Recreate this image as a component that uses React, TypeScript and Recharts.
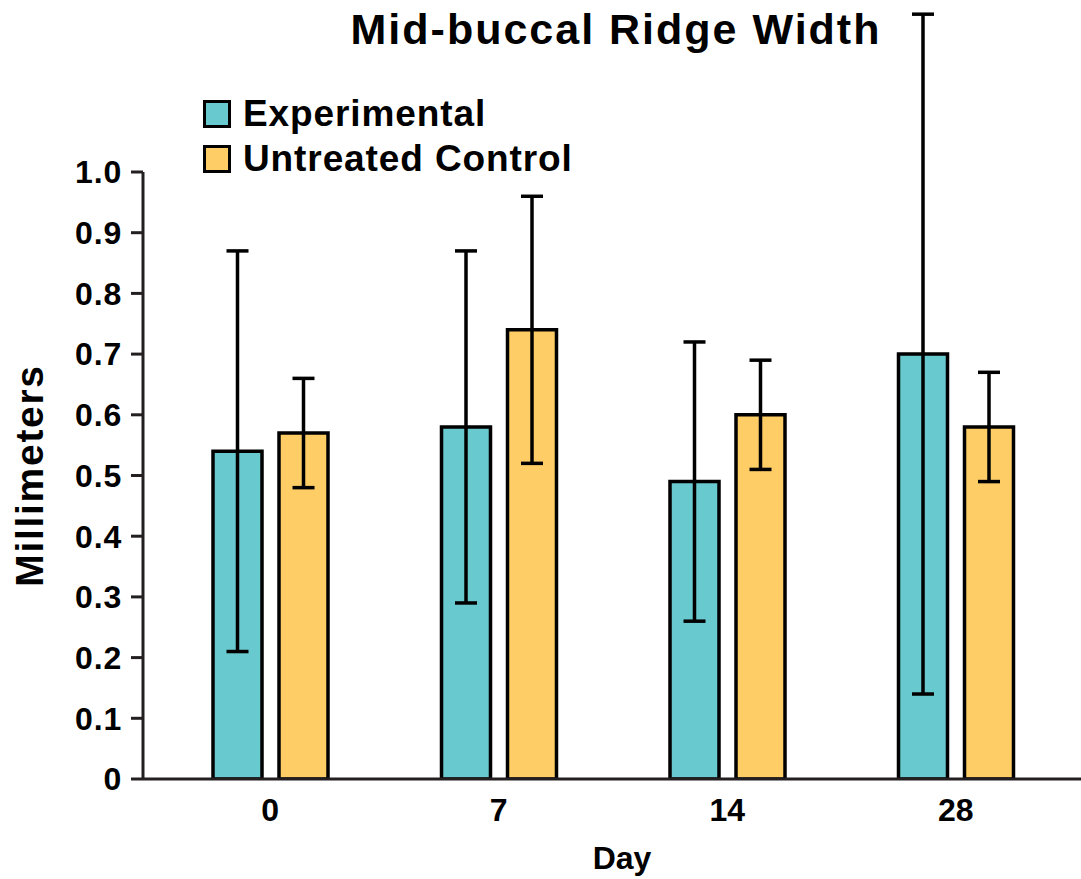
import { BarChart, Bar, XAxis, YAxis, ErrorBar, Legend } from "recharts";

const days = ["0", "7", "14", "28"];
const experimental = [0.54, 0.58, 0.49, 0.7];
const experimentalErr = [0.33, 0.29, 0.23, 0.56];
const control = [0.57, 0.74, 0.6, 0.58];
const controlErr = [0.09, 0.22, 0.09, 0.09];
const yTicks = [0, 0.1, 0.2, 0.3, 0.4, 0.5, 0.6, 0.7, 0.8, 0.9, 1.0];

const TEAL = "#68C9CE";
const GOLD = "#FECD66";
const AXIS = "#231F20";
const FONT = "'Liberation Sans', Arial, sans-serif";

const data = days.map((d, i) => ({
  day: d,
  exp: experimental[i],
  expErr: experimentalErr[i],
  ctrl: control[i],
  ctrlErr: controlErr[i],
}));

const legendItems = [
  { name: "Experimental", color: TEAL },
  { name: "Untreated Control", color: GOLD },
];

function LegendBox() {
  return (
    <div style={{ fontFamily: FONT, fontWeight: 700, fontSize: 37, color: "#000", lineHeight: "45px" }}>
      {legendItems.map(it => (
        <div key={it.name} style={{ display: "flex", alignItems: "center" }}>
          <span style={{ width: 22, height: 22, background: it.color, border: "3.5px solid #000", marginRight: 12, display: "inline-block" }} />
          <span style={{ letterSpacing: 0.9 }}>{it.name}</span>
        </div>
      ))}
    </div>
  );
}

export default function App() {
  return (
    <div style={{ position: "absolute", left: 0, top: 0, width: 1081, height: 879, background: "#fff" }}>
      <div style={{ position: "absolute", left: 0, width: 1232, top: 5, textAlign: "center", fontFamily: FONT, fontWeight: 700, fontSize: 43, letterSpacing: 2, color: "#000" }}>
        Mid-buccal Ridge Width
      </div>
      <BarChart width={1081} height={879} data={data} margin={{ top: 172, right: 0, bottom: 0, left: 0 }}
        barSize={49} barGap={17}>
        <XAxis dataKey="day" height={100} tickLine={false} tickSize={10} tickMargin={9}
          axisLine={{ stroke: AXIS, strokeWidth: 3 }} padding={{ left: 13, right: 11 }}
          tick={{ fill: "#000", fontSize: 32, fontWeight: 700, fontFamily: FONT }}
          label={{ value: "Day", position: "insideBottom", offset: 10, dx: 10, fill: "#000", fontSize: 32, fontWeight: 700, fontFamily: FONT }} />
        <YAxis width={143} domain={[0, 1]} allowDataOverflow ticks={yTicks} interval={0}
          tickFormatter={v => (v === 0 ? "0" : v.toFixed(1))}
          tickSize={12} tickMargin={9}
          axisLine={{ stroke: AXIS, strokeWidth: 3 }} tickLine={{ stroke: AXIS, strokeWidth: 3 }}
          tick={{ fill: "#000", fontSize: 32, fontWeight: 700, fontFamily: FONT, letterSpacing: 0.8 }}
          label={{ value: "Millimeters", angle: -90, position: "insideLeft", offset: 29, fill: "#000", fontSize: 39, fontWeight: 700, fontFamily: FONT, letterSpacing: 1.7, style: { textAnchor: "middle" } }} />
        <Legend layout="vertical" align="center" verticalAlign="middle" content={<LegendBox />}
          wrapperStyle={{ left: 203, top: 91, width: "auto" }} />
        <Bar dataKey="exp" name="Experimental" fill={TEAL} stroke="#000" strokeWidth={3.5} isAnimationActive={false}>
          <ErrorBar dataKey="expErr" width={11} stroke="#000" strokeWidth={3.5} isAnimationActive={false} />
        </Bar>
        <Bar dataKey="ctrl" name="Untreated Control" fill={GOLD} stroke="#000" strokeWidth={3.5} isAnimationActive={false}>
          <ErrorBar dataKey="ctrlErr" width={11} stroke="#000" strokeWidth={3.5} isAnimationActive={false} />
        </Bar>
      </BarChart>
    </div>
  );
}
